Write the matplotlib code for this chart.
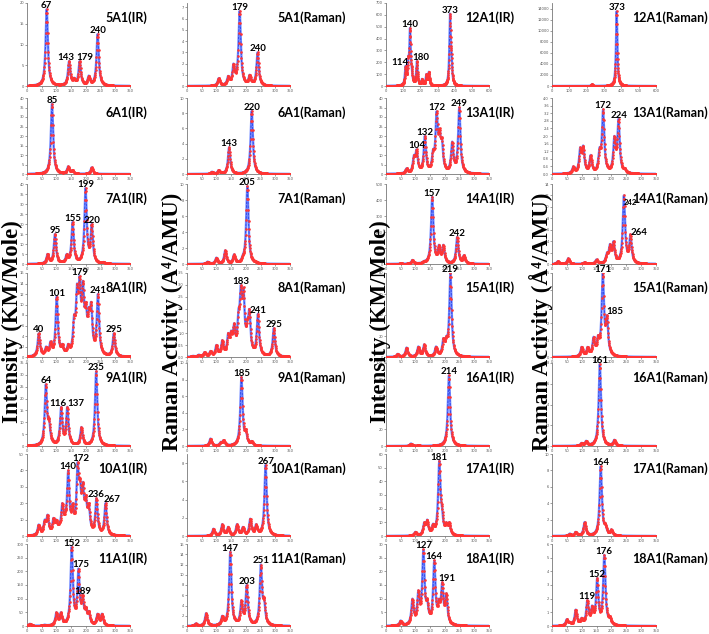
import matplotlib
matplotlib.use("Agg")
import matplotlib.pyplot as plt
import numpy as np

# panel order: row by row, 4 columns (IR, Raman, IR, Raman)
names = ["5A1(IR)", "5A1(Raman)", "12A1(IR)", "12A1(Raman)",
         "6A1(IR)", "6A1(Raman)", "13A1(IR)", "13A1(Raman)",
         "7A1(IR)", "7A1(Raman)", "14A1(IR)", "14A1(Raman)",
         "8A1(IR)", "8A1(Raman)", "15A1(IR)", "15A1(Raman)",
         "9A1(IR)", "9A1(Raman)", "16A1(IR)", "16A1(Raman)",
         "10A1(IR)", "10A1(Raman)", "17A1(IR)", "17A1(Raman)",
         "11A1(IR)", "11A1(Raman)", "18A1(IR)", "18A1(Raman)"]

x_max = [350, 350, 600, 600,
         350, 350, 350, 350,
         350, 350, 350, 350,
         350, 350, 350, 350,
         350, 350, 350, 350,
         350, 350, 350, 350,
         350, 350, 350, 350]

# top of the y axis and the tick step
y_max = [20, 7.4, 700, 15000,
         40, 10, 40, 4.0,
         40, 10, 500, 14,
         16, 3.5, 80, 5,
         35, 10, 100, 8,
         50, 9, 60, 10,
         300, 16, 30, 6]

y_step = [5, 1, 100, 2000,
          5, 2, 5, 0.4,
          5, 2, 100, 2,
          2, 0.5, 20, 1,
          5, 2, 20, 2,
          10, 2, 10, 2,
          50, 2, 5, 1]

# band positions (cm-1) and the curve height read at each band
peak_pos = [
    [67, 143, 160, 179, 210, 240],
    [108, 140, 158, 170, 179, 213, 240],
    [114, 130, 140, 150, 180, 210, 235, 250, 373, 381],
    [230, 373],
    [85, 140, 155, 220],
    [85, 108, 143, 220],
    [70, 95, 104, 132, 160, 172, 182, 190, 225, 249],
    [72, 95, 105, 130, 160, 172, 210, 224, 245],
    [70, 95, 135, 155, 199, 220, 260],
    [70, 100, 130, 160, 190, 205, 235],
    [50, 90, 130, 157, 180, 195, 242, 265],
    [20, 55, 110, 150, 185, 195, 207, 242, 264],
    [40, 65, 80, 101, 120, 140, 160, 170, 179, 190, 200, 210, 218, 241, 295],
    [20, 40, 60, 80, 100, 120, 140, 150, 160, 175, 183, 192, 205, 212, 241, 295],
    [40, 70, 110, 130, 170, 195, 205, 219],
    [100, 120, 140, 155, 171, 185, 200],
    [64, 75, 116, 137, 185, 235],
    [80, 115, 125, 185, 200, 220],
    [85, 110, 214],
    [100, 115, 161, 210],
    [40, 60, 70, 90, 100, 110, 120, 130, 140, 155, 172, 180, 190, 200, 210, 236, 267],
    [90, 120, 140, 170, 190, 215, 235, 267],
    [100, 130, 140, 160, 181, 190, 205, 215],
    [60, 80, 110, 164, 180, 200],
    [10, 60, 100, 115, 152, 175, 189, 200, 210, 240, 255],
    [30, 65, 120, 147, 185, 203, 251, 262],
    [50, 90, 110, 127, 140, 164, 180, 191, 205],
    [50, 60, 80, 100, 119, 135, 152, 176, 195],
]

peak_height = [
    [18.5, 6, 2, 6, 2.5, 12.5],
    [0.7, 0.9, 2.0, 1.7, 6.7, 1.0, 3.0],
    [170, 250, 490, 160, 210, 60, 100, 120, 610, 300],
    [300, 13500],
    [37, 4, 2, 3.5],
    [0.3, 0.5, 3.5, 8.3],
    [3, 10, 13, 20, 13, 33, 24, 19, 17, 35],
    [0.4, 1.4, 1.5, 1.0, 1.4, 3.4, 2.0, 2.9, 0.3],
    [5, 15, 5, 21, 38, 20, 1],
    [0.3, 0.8, 1.7, 1.2, 1.2, 9.7, 0.3],
    [5, 25, 20, 420, 120, 120, 170, 55],
    [0.5, 1.0, 0.3, 0.8, 2.0, 3.5, 4.0, 12, 5.2],
    [4.5, 2, 3, 11.5, 2.5, 2.5, 8, 14, 15.5, 14.5, 10.5, 9.5, 10.5, 12, 4.5],
    [0.05, 0.1, 0.2, 0.25, 0.5, 0.7, 1.0, 1.1, 1.4, 2.0, 3.0, 2.9, 1.6, 2.0, 1.8, 1.2],
    [3, 9, 10, 12, 10, 18, 20, 80],
    [0.6, 0.6, 1.2, 1.3, 5.0, 2.5, 0.3],
    [26, 11.5, 16.5, 16.5, 8, 31.5],
    [0.9, 0.5, 0.7, 8.3, 2, 0.6],
    [3, 1, 85],
    [0.3, 0.5, 7.9, 0.6],
    [7, 10, 13, 11, 10, 8, 20, 15, 40, 20, 45, 35, 33, 25, 20, 23, 20],
    [0.8, 1.3, 1.0, 1.3, 1.0, 1.9, 1.3, 7.8],
    [3, 10, 12, 9, 55, 22, 10, 10],
    [0.3, 0.5, 1.7, 8.5, 1.5, 0.8],
    [8, 5, 50, 50, 290, 210, 114, 70, 55, 45, 45],
    [0.5, 2.5, 2, 14.5, 5, 8, 12, 5.5],
    [2, 10, 13, 28, 10, 24, 10, 16, 12],
    [0.5, 0.3, 1.2, 0.6, 1.9, 1.5, 3.5, 5.2, 0.7],
]

peak_labels = [
    [67, 143, 179, 240], [179, 240], [114, 140, 180, 373], [373],
    [85], [143, 220], [104, 132, 172, 249], [172, 224],
    [95, 155, 199, 220], [205], [157, 242], [242, 264],
    [40, 101, 179, 241, 295], [183, 241, 295], [219], [171, 185],
    [64, 116, 137, 235], [185], [214], [161],
    [140, 172, 236, 267], [267], [181], [164],
    [152, 175, 189], [147, 203, 251], [127, 164, 191], [119, 152, 176],
]

# labels that sit beside their peak instead of on top (x, y offset in points)
label_shift = {
    ("5A1(IR)", 143): (-2, 0), ("5A1(IR)", 179): (3.5, 0),
    ("12A1(IR)", 114): (-4, 0), ("12A1(IR)", 180): (3, 0),
    ("14A1(Raman)", 242): (4.7, -8), ("14A1(Raman)", 264): (6, -1),
    ("15A1(Raman)", 185): (6, 0),
    ("9A1(IR)", 116): (-2, 0), ("9A1(IR)", 137): (6, 0),
    ("10A1(IR)", 172): (2, 0), ("10A1(IR)", 267): (5, 0),
    ("11A1(IR)", 175): (1.5, 0),
    ("18A1(IR)", 191): (3, 0),
}
small_labels = {("14A1(Raman)", 242)}

col_left = [27, 187, 386, 552]
col_width = [103, 103, 103, 104]
title_right = [147, 346, 514, 708]
row_top = [3, 98, 184, 273, 363, 454, 544]
row_bottom = [86, 174, 264, 357, 446, 536, 626]

W, H = 709, 634
fig = plt.figure(figsize=(W / 100, H / 100), dpi=100)

gamma = 4.5


def lorentz(d):
    return gamma ** 2 / (d ** 2 + gamma ** 2)


for i, name in enumerate(names):
    r, c = divmod(i, 4)
    ax = fig.add_axes([col_left[c] / W, 1 - row_bottom[r] / H,
                       col_width[c] / W, (row_bottom[r] - row_top[r]) / H])

    # band strengths that give the read heights once the bands overlap
    pos = np.array(peak_pos[i], float)
    hgt = np.array(peak_height[i], float)
    M = lorentz(pos[:, None] - pos[None, :])
    amp = hgt.copy()
    for _ in range(200):
        amp = np.clip(amp + 0.5 * (hgt - M @ amp), 0, None)

    x = np.arange(0, x_max[i] + 0.5, 1.0)
    y = (amp[None, :] * lorentz(x[:, None] - pos[None, :])).sum(axis=1)
    ax.plot(x, y, color="#7189ff", lw=1.7, zorder=2)
    ax.plot(x, y, color="#1f35e0", lw=0.5, ls="--", zorder=3)
    ax.plot(x, y, ls="none", marker="o", ms=1.9, mfc="#ff3535", mec="none", zorder=4)

    ax.set_xlim(0, x_max[i])
    ax.set_ylim(0, y_max[i])
    ax.set_xticks(np.arange(0, x_max[i] + 1, 50 if x_max[i] <= 350 else 100))
    ax.set_yticks(np.arange(0, y_max[i] + y_step[i] * 0.01, y_step[i]))
    ax.tick_params(labelsize=2.6, length=1.2, width=0.4, pad=1, colors="#555555")
    for s in ["top", "right"]:
        ax.spines[s].set_visible(False)
    for s in ["left", "bottom"]:
        ax.spines[s].set_linewidth(0.6)
        ax.spines[s].set_color("#777777")

    for lab in peak_labels[i]:
        yv = y[np.argmin(np.abs(x - lab))]
        dx, dy = label_shift.get((name, lab), (0, 0))
        size = 5.5 if (name, lab) in small_labels else 7
        ax.annotate(str(lab), (lab, yv), xytext=(dx, 0.8 + dy), textcoords="offset points",
                    ha="center", va="baseline", fontsize=size, fontweight="bold",
                    family="Lato", annotation_clip=False, zorder=5)

    fig.text(title_right[c] / W, 1 - (row_top[r] + 15) / H, name, ha="right", va="center",
             fontsize=9, fontweight="bold", family="Lato")

ylab_x = [12, 172, 380, 541]
ylab_text = ["Intensity (KM/Mole)", "Raman Activity (A\u2074/AMU)",
             "Intensity (KM/Mole)", "Raman Activity (\u00c5\u2074/AMU)"]
for c in range(4):
    fig.text(ylab_x[c] / W, 1 - 322 / H, ylab_text[c], rotation=90, ha="center", va="center",
             fontsize=16.5, fontweight="bold", family=["Liberation Serif", "DejaVu Serif"])

fig.savefig("out.png", dpi=100)
